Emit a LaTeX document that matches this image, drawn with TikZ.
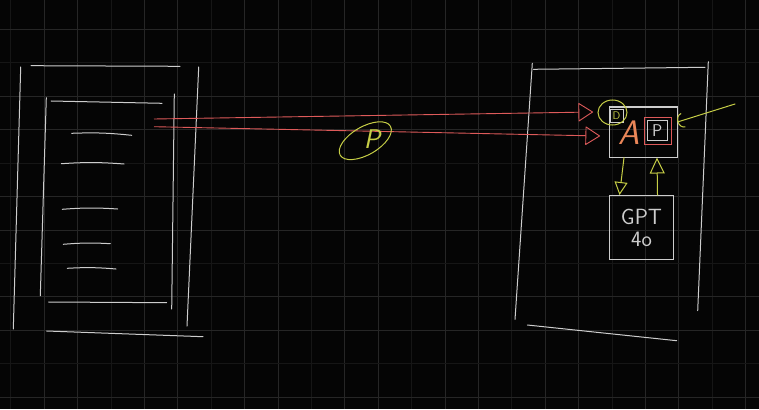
\documentclass[tikz,border=0pt]{standalone}
\usepackage{tikz}
\usetikzlibrary{arrows.meta,positioning}
\definecolor{boardblack}{RGB}{5,5,5}
\definecolor{gridgray}{RGB}{38,38,38}
\definecolor{gridfaint}{RGB}{22,22,22}
\definecolor{chalk}{RGB}{205,205,205}
\definecolor{penred}{RGB}{222,90,90}
\definecolor{penyellow}{RGB}{198,206,70}
\definecolor{penorange}{RGB}{234,134,88}

\begin{document}
\begin{tikzpicture}[
  x=1pt, y=-1pt,
  grid/.style={gridgray, line width=0.8pt},
  faintgrid/.style={gridfaint, line width=0.8pt},
  chalkline/.style={chalk, line width=1pt, line cap=round},
  req/.style={-{Triangle[open,round,length=15pt,width=19pt]}, penred, line width=0.9pt},
  hint/.style={penyellow, line width=1pt, line cap=round},
  box/.style={draw=chalk, line width=1pt, inner sep=0pt},
  scrawl/.style={font=\sffamily\itshape, inner sep=0pt}
]
  \useasboundingbox (0,0) rectangle (759,409);
  \fill[boardblack] (0,0) rectangle (759,409);

  % board grid
  \foreach \i in {0,...,22} {
    \pgfmathsetmacro\gx{10.7+33.4*\i}
    \pgfmathtruncatemacro\gm{mod(\i,3)}
    \ifnum\gm=0 \draw[faintgrid] (\gx,0) -- (\gx,409); \else \draw[grid] (\gx,0) -- (\gx,409); \fi
  }
  \foreach \j in {0,...,11} {
    \pgfmathsetmacro\gy{29.5+33.4*\j}
    \pgfmathtruncatemacro\gm{mod(\j,3)}
    \ifnum\gm=1 \draw[faintgrid] (0,\gy) -- (759,\gy); \else \draw[grid] (0,\gy) -- (759,\gy); \fi
  }

  % client screen
  \draw[chalkline] (31,65.7) -- (180,66.3);
  \draw[chalkline] (20.7,67) -- (13.3,329);
  \draw[chalkline] (198.7,67) -- (187,326);
  \draw[chalkline] (46.7,331) -- (203,336.7);
  \draw[chalkline] (51,101) -- (162,103.3);
  \draw[chalkline] (46.3,97.7) -- (40.3,295.7);
  \draw[chalkline] (174.3,94) -- (171.7,309);
  \draw[chalkline] (48.7,302) -- (166.7,302.7);
  \foreach \a/\b/\c/\d in {71.7/133.3/131.7/135.3, 61.3/163.7/124/164, 62.3/209.3/117.7/209, 63.3/244.3/110.3/243.7, 67.3/268.3/116/269} {
    \draw[chalkline] (\a,\b) to[bend left=4] (\c,\d);
  }

  % server frame
  \draw[chalkline] (533.3,69.3) -- (705,67.3);
  \draw[chalkline] (532.3,63.3) -- (515,319.3);
  \draw[chalkline] (708.3,61.7) -- (697.7,310.7);
  \draw[chalkline] (527.3,325) -- (676.7,340.7);

  \node[box, minimum width=68pt, minimum height=50pt] (api) at (643,132) {};
  \node[box, minimum width=64pt, minimum height=64pt, align=center, text=chalk,
        font={\sffamily\fontsize{22}{22}\selectfont}] (gpt) at (641.5,227.5) {GPT\\4o};

  \node[scrawl, text=penorange, font={\sffamily\itshape\fontsize{34}{34}\selectfont}] (aletter) at (629,133) {A};
  \node[draw=penred, line width=1.3pt, minimum size=27pt, inner sep=0pt] (pbox) at (658,131) {};
  \node[box, minimum size=19.5pt, text=chalk, font={\sffamily\fontsize{17}{17}\selectfont}] (pkey) at (657.3,130.5) {P};
  \node[box, minimum size=13pt, text=penyellow, font={\sffamily\fontsize{11}{11}\selectfont}] (dkey) at (616.5,115.5) {D};
  \draw[hint] (612.5,112.5) ellipse [x radius=14.5, y radius=12.5];

  % requests
  \coordinate (tx1) at (154,119);
  \coordinate (tx2) at (154,126.7);
  \coordinate (rx1) at (593,112);
  \coordinate (rx2) at (600,136);
  \draw[req] (tx1) -- (rx1);
  \draw[req] (tx2) -- (rx2);

  \draw[hint, rotate around={30:(365.3,140.7)}] (365.3,140.7) ellipse [x radius=29, y radius=14];
  \node[scrawl, text=penyellow, font={\sffamily\itshape\fontsize{27}{27}\selectfont}] (ptoken) at (372,139) {P};

  % key and model calls
  \coordinate (kin) at (735,104);
  \draw[hint, -{Arc Barb[length=6pt,width=15pt]}] (kin) -- ([yshift=10pt]api.east);
  \draw[hint, -{Triangle[open,length=13pt,width=13pt]}] ([xshift=-19pt]api.south) -- ([xshift=-22pt]gpt.north);
  \draw[hint, -{Triangle[open,length=16pt,width=15pt]}] ([xshift=16pt]gpt.north) -- ([xshift=14pt]api.south);
\end{tikzpicture}
\end{document}
